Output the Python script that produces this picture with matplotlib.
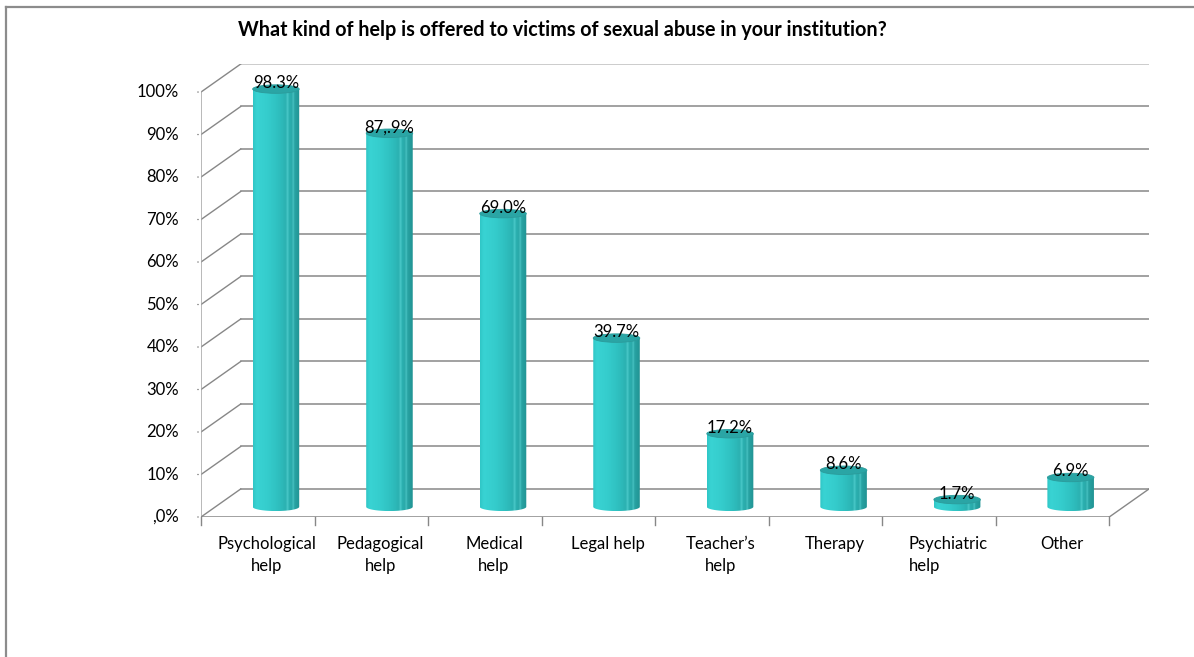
import numpy as np
import matplotlib
matplotlib.use('Agg')
import matplotlib.pyplot as plt
from matplotlib.patches import Ellipse, Polygon
from matplotlib.colors import LinearSegmentedColormap
from matplotlib.lines import Line2D

plt.rcParams['font.family'] = ['Lato', 'DejaVu Sans']

categories = ['Psychological\nhelp', 'Pedagogical\nhelp', 'Medical\nhelp', 'Legal help',
              'Teacher\u2019s\nhelp', 'Therapy', 'Psychiatric\nhelp', 'Other']
values = [98.3, 87.9, 69.0, 39.7, 17.2, 8.6, 1.7, 6.9]
value_labels = ['98.3%', '87,.9%', '69.0%', '39.7%', '17.2%', '8.6%', '1.7%', '6.9%']
y_ticks = [0, 10, 20, 30, 40, 50, 60, 70, 80, 90, 100]
y_tick_labels = [',0%', '10%', '20%', '30%', '40%', '50%', '60%', '70%', '80%', '90%', '100%']
title = 'What kind of help is offered to victims of sexual abuse in your institution?'

# pseudo-3d depth offsets (in data units)
DX = 0.35
DY = 6.6
BASE = 2.4
CYL_W = 0.41
ELL_H = 2.0
GRID = '#878787'

fig = plt.figure(figsize=(11.94, 6.57), dpi=100)
ax = fig.add_axes([201 / 1194, 140 / 657, 948 / 1194, 453 / 657])
n = len(categories)
ax.set_xlim(0, n + DX)
ax.set_ylim(0, 100 + DY)
ax.axis('off')

# outer frame (top and left)
fig.add_artist(Line2D([6 / 1194, 1], [1 - 7 / 657, 1 - 7 / 657], color='#8c8c8c', lw=1.6))
fig.add_artist(Line2D([6 / 1194, 6 / 1194], [0, 1 - 7 / 657], color='#8c8c8c', lw=1.6))

# walls and gridlines
for v in y_ticks:
    col = '#bfbfbf' if v == 100 else GRID
    ax.plot([DX, n + DX], [v + DY, v + DY], color=col, lw=1.1, zorder=1)
    ax.plot([0, DX], [v, v + DY], color=GRID, lw=1.0, zorder=1)
    ax.annotate('', xy=(0, v), xytext=(-6, 0), textcoords='offset pixels',
                arrowprops=dict(arrowstyle='-', color=GRID, lw=1.0))
    ax.annotate(y_tick_labels[v // 10], xy=(0, v), xytext=(-22, 0), textcoords='offset pixels',
                ha='right', va='center', fontsize=12, color='black')
ax.plot([0, 0], [0, 100], color='#a6a6a6', lw=1.1, zorder=1)
ax.plot([0, n], [0, 0], color=GRID, lw=1.1, zorder=1)
ax.plot([n, n + DX], [0, DY], color=GRID, lw=1.0, zorder=1)
for i in range(n + 1):
    ax.plot([i, i], [0, -1.9], color=GRID, lw=1.0, clip_on=False)

# category labels
for i, lab in enumerate(categories):
    ma = 'left' if lab.startswith('Psychiatric') else 'center'
    ax.annotate(lab, xy=(i + 0.58, 0), xytext=(0, -19), textcoords='offset pixels',
                ha='center', va='top', multialignment=ma, fontsize=12, linespacing=1.5)

# cylinder shading
cyl_cmap = LinearSegmentedColormap.from_list('cyl', [
    (0.0, '#30c6c6'), (0.08, '#39d3d3'), (0.3, '#35cdcd'), (0.5, '#30c2c2'),
    (0.62, '#2db9b9'), (0.7, '#2bb1b1'), (0.74, '#4ccaca'), (0.77, '#2bb0b0'),
    (0.83, '#2aa9a9'), (0.86, '#49c3c3'), (0.89, '#28a3a3'), (1.0, '#229494')])
grad = np.linspace(0, 1, 200).reshape(1, -1)

for i, (v, lab) in enumerate(zip(values, value_labels)):
    cx = i + 0.5 + 0.16
    x0, x1 = cx - CYL_W / 2, cx + CYL_W / 2
    top = v + BASE
    t = np.linspace(np.pi, 2 * np.pi, 40)
    pts = [(x0, top)] + [(cx + CYL_W / 2 * np.cos(a), BASE + ELL_H / 2 * np.sin(a)) for a in t] + [(x1, top)]
    body = Polygon(pts, closed=True, facecolor='none', edgecolor='none', zorder=3)
    ax.add_patch(body)
    im = ax.imshow(grad, cmap=cyl_cmap, aspect='auto', extent=(x0, x1, BASE - ELL_H / 2, top),
                   zorder=3, interpolation='bilinear')
    im.set_clip_path(body)
    ax.add_patch(Ellipse((cx, top), CYL_W, ELL_H, facecolor='#2aa5a5', edgecolor='#2b9b9b',
                         lw=0.6, zorder=4))
    ax.annotate(lab, xy=(cx, top), xytext=(0, 1), textcoords='offset pixels',
                ha='center', va='baseline', fontsize=12, zorder=5)

ax.set_xlim(0, n + DX)
ax.set_ylim(0, 100 + DY)

fig.text(562 / 1194, 1 - 30 / 657, title, ha='center', va='center', fontsize=14.2, fontweight='bold')

fig.savefig('out.png', dpi=100)
